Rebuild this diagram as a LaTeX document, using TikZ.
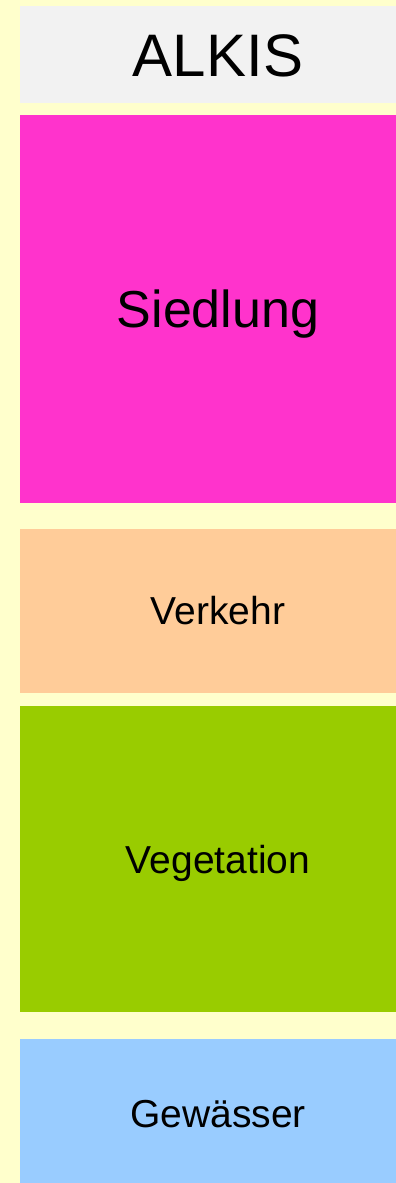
\documentclass[tikz,border=0pt]{standalone}
\usepackage{fontspec}
\setmainfont{Liberation Sans}
\usetikzlibrary{positioning}

\definecolor{bgyellow}{HTML}{FFFFCC}
\definecolor{alkisgray}{HTML}{F2F2F2}
\definecolor{siedlungpink}{HTML}{FF33CC}
\definecolor{verkehrorange}{HTML}{FFCC99}
\definecolor{vegetationgreen}{HTML}{99CC00}
\definecolor{gewaesserblue}{HTML}{99CCFF}

\begin{document}
\begin{tikzpicture}[
  x=1pt, y=-1pt,
  layer/.style={rectangle, inner sep=0pt, minimum width=396pt, text height=28pt, text depth=0pt, font=\fontsize{39}{39}\selectfont},
]
\useasboundingbox (0,0) rectangle (396,1183);
\clip (0,0) rectangle (396,1183);
\fill [bgyellow] (0,0) rectangle (396,1183);

\node (alkis)      [layer, fill=alkisgray, minimum height=97pt, text height=43pt, font=\fontsize{60}{60}\selectfont] at (218,54.5) {ALKIS};
\node (siedlung)   [layer, fill=siedlungpink, minimum height=388pt, text height=37pt, font=\fontsize{52}{52}\selectfont, below=12pt of alkis] {Siedlung};
\node (verkehr)    [layer, fill=verkehrorange, minimum height=164pt, below=25pt of siedlung] {Verkehr};
\node (vegetation) [layer, fill=vegetationgreen, minimum height=306pt, below=13pt of verkehr] {Vegetation};
\node (gewaesser)  [layer, fill=gewaesserblue, minimum height=150pt, below=26pt of vegetation] {Gewässer};
\end{tikzpicture}
\end{document}
